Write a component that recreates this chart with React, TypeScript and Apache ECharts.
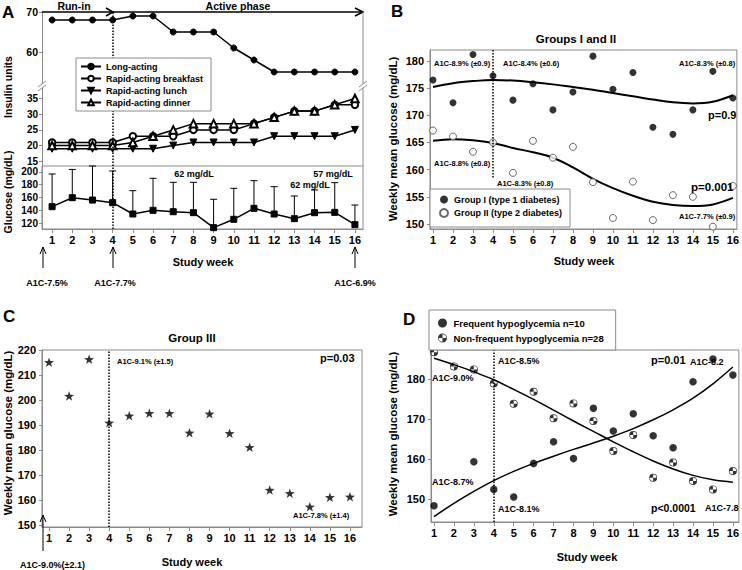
import React, { useEffect, useRef } from 'react';
import * as echarts from 'echarts';

// ---------- data ----------
const weeks = [1, 2, 3, 4, 5, 6, 7, 8, 9, 10, 11, 12, 13, 14, 15, 16];

// Panel A
const longActing = [68, 68, 68, 68, 69, 69, 65, 65, 65, 61, 58, 55, 55, 55, 55, 55];
const rapidBreakfast = [21, 21, 21, 21, 23, 23, 23, 25, 25, 25, 27, 29, 31, 31, 33, 33];
const rapidLunch = [19, 19, 19, 19, 19, 19, 20, 21, 21, 21, 21, 23, 23, 23, 23, 25];
const rapidDinner = [20, 20, 20, 20, 21, 23, 25, 27, 27, 27, 27, 29, 31, 31, 33, 35];
const glucoseMean = [145.6, 159.7, 156, 151.9, 134.1, 139.9, 137.7, 136.2, 112.7, 125.8, 143, 134.1, 126.8, 136.2, 136.7, 117.4];
const glucoseUpper = [196.9, 204, 209.4, 201.6, 170.7, 190.1, 183.8, 183.8, 157.2, 174.4, 186.4, 177, 162.4, 171.8, 183.3, 148.2];
const insulinUpperTicks = [60, 70];
const insulinLowerTicks = [15, 20, 25, 30, 35];
const glucoseTicks = [120, 140, 160, 180, 200];

// Panel B
const groupI = [176.5, 172.3, 181.2, 177.3, 172.8, 175.8, 171, 174.3, 180.9, 174.8, 177.9, 167.8, 166.5, 171, 178.1, 173.2];
const groupII = [167.2, 166.1, 163.3, 165.0, 159.4, 165.3, 162.2, 164.2, 157.7, 151.1, 157.8, 150.7, 155.3, 155, 149.5, 157];
const groupIFit = [175.2, 175.9, 176.3, 176.5, 176.4, 176.1, 175.7, 175.2, 174.7, 174.1, 173.5, 172.9, 172.4, 172.2, 172.5, 173.7];
const groupIIFit = [165.3, 165.6, 165.4, 164.9, 164.0, 163.2, 162.2, 160.4, 158.3, 156.6, 155.2, 154.1, 153.5, 153.3, 153.6, 154.8];
const bTicks = [150, 155, 160, 165, 170, 175, 180];

// Panel C
const groupIII = [215.1, 201.6, 216.3, 190.9, 193.7, 194.7, 194.7, 186.9, 194.5, 186.7, 181.1, 164, 162.7, 157.3, 161.1, 161.3];
const cTicks = [150, 160, 170, 180, 190, 200, 210, 220];

// Panel D
const frequentHypo = [148.3, 143.8, 159.3, 152.4, 150.5, 158.9, 164.3, 160.1, 172.7, 167, 171.3, 165.8, 162.8, 179.3, 185, 181];
const nonFrequentHypo = [186.7, 183.1, 182.4, 178.9, 173.8, 176.8, 170.2, 173.9, 169.5, 162, 166, 155.3, 159.1, 154.5, 152.4, 157];
const frequentFit = [145.6, 148.9, 151.9, 154.6, 156.9, 158.9, 160.7, 162.4, 164.0, 165.7, 167.6, 169.8, 172.3, 175.2, 178.8, 183.0];
const nonFrequentFit = [185.2, 183.6, 181.8, 179.8, 177.4, 174.9, 172.2, 169.5, 166.9, 164.3, 161.8, 159.5, 157.5, 155.9, 154.8, 154.2];
const dTicks = [150, 160, 170, 180];

// ---------- styles ----------
const FONT = '"Liberation Sans", Arial, Helvetica, sans-serif';
const GRAY = '#8a8a8a';
const STAR = 'path://M10 0L12.35 6.76L19.51 6.91L13.8 11.24L15.88 18.09L10 14L4.12 18.09L6.2 11.24L0.49 6.91L7.65 6.76Z';
const QUARTER = 'path://M10 0A10 10 0 1 1 10 20A10 10 0 1 1 10 0ZM10 1.7A8.3 8.3 0 1 0 10 18.3A8.3 8.3 0 1 0 10 1.7ZM10 10L0 10A10 10 0 0 1 10 0ZM10 10L20 10A10 10 0 0 1 10 20Z';

const pairs = (ys: number[]) => weeks.map((w, i) => [w, ys[i]]);

const dotted = (data: any[]) => ({
  silent: true,
  symbol: ['none', 'none'],
  label: { show: false },
  lineStyle: { type: 'dotted', color: '#000', width: 1.5 },
  data,
});

const xAx = (gridIndex: number, min: number, max: number, show = true) => ({
  type: 'value',
  gridIndex,
  min,
  max,
  show,
  axisLine: { show: true, lineStyle: { color: GRAY, width: 1 } },
  axisTick: { show: true, customValues: weeks, length: 4, lineStyle: { color: GRAY } },
  axisLabel: { customValues: weeks, color: '#000', fontWeight: 'bold', fontSize: 11, fontFamily: FONT, margin: 5 },
  splitLine: { show: false },
});

const yAx = (gridIndex: number, min: number, max: number, vals: number[], margin = 5, size = 11) => ({
  type: 'value',
  gridIndex,
  min,
  max,
  axisLine: { show: true, lineStyle: { color: GRAY, width: 1 } },
  axisTick: { show: true, customValues: vals, length: 3, lineStyle: { color: GRAY } },
  axisLabel: { customValues: vals, color: '#000', fontWeight: 'bold', fontSize: size, fontFamily: FONT, margin },
  splitLine: { show: false },
});

const txt = (x: number, y: number, t: string, size: number, align = 'left', rotation = 0) => ({
  type: 'text',
  x,
  y,
  rotation,
  z: 100,
  style: {
    text: t,
    fontSize: size,
    fontWeight: 'bold',
    fontFamily: FONT,
    fill: '#000',
    textAlign: align,
    align,
    textVerticalAlign: 'middle',
    verticalAlign: 'middle',
  },
});

const ln = (x1: number, y1: number, x2: number, y2: number, w = 1, color = '#000') => ({
  type: 'line',
  z: 100,
  shape: { x1, y1, x2, y2 },
  style: { stroke: color, lineWidth: w },
});

const pl = (points: number[][], w = 1) => ({
  type: 'polyline',
  z: 100,
  shape: { points },
  style: { stroke: '#000', fill: 'none', lineWidth: w },
});

const upArrow = (x: number, yTop: number, yBottom: number) => [
  ln(x, yBottom, x, yTop, 1),
  pl([[x - 3, yTop + 7], [x, yTop], [x + 3, yTop + 7]], 1),
];

const blackLine = (name: string, xi: number, ys: number[], symbol: string, size: number, extra: any = {}) => ({
  type: 'line',
  name,
  xAxisIndex: xi,
  yAxisIndex: xi,
  data: pairs(ys),
  symbol,
  symbolSize: size,
  itemStyle: { color: '#000', borderColor: '#000', borderWidth: 1 },
  lineStyle: { color: '#000', width: 1.5 },
  ...extra,
});

const fitLine = (name: string, idx: number, ys: number[], w: number) => ({
  type: 'line',
  name,
  xAxisIndex: idx,
  yAxisIndex: idx,
  data: pairs(ys),
  smooth: 0.4,
  showSymbol: false,
  symbol: 'none',
  silent: true,
  lineStyle: { color: '#000', width: w },
  z: 1,
});

export default function App() {
  const ref = useRef<HTMLDivElement>(null);

  useEffect(() => {
    if (!ref.current) return;
    const chart = echarts.init(ref.current, undefined, { renderer: 'svg' });

    const grids = [
      { left: 42, top: 12, width: 321, height: 74 }, // A1
      { left: 42, top: 86, width: 321, height: 80 }, // A2
      { left: 42, top: 166, width: 321, height: 63, show: true, borderColor: GRAY, borderWidth: 1 }, // A3
      { left: 430, top: 50, width: 310, height: 179, show: true, borderColor: GRAY, borderWidth: 1 }, // B
      { left: 42, top: 350, width: 320, height: 177, show: true, borderColor: GRAY, borderWidth: 1 }, // C
      { left: 431, top: 350, width: 309, height: 172, show: true, borderColor: GRAY, borderWidth: 1 }, // D
    ];

    const xAxis = [
      xAx(0, 0.5, 16.4, false),
      xAx(1, 0.5, 16.4, false),
      xAx(2, 0.5, 16.4),
      xAx(3, 0.85, 16.2),
      xAx(4, 0.65, 16.6),
      xAx(5, 0.85, 16.3),
    ];
    const yAxis = [
      yAx(0, 51.5, 70, insulinUpperTicks, 4, 10.5),
      yAx(1, 13.5, 39, insulinLowerTicks, 4, 10),
      yAx(2, 110.6, 209.4, glucoseTicks, 4, 10),
      yAx(3, 149.07, 182.03, bTicks, 6),
      yAx(4, 149.2, 220, cTicks, 6),
      yAx(5, 144.25, 187.25, dTicks, 6),
    ];

    const series: any[] = [
      // Panel A insulin
      blackLine('Long-acting', 0, longActing, 'circle', 6, { markLine: dotted([{ xAxis: 4 }]) }),
      blackLine('Rapid-acting breakfast', 1, rapidBreakfast, 'emptyCircle', 6.5, {
        itemStyle: { color: '#000', borderColor: '#000', borderWidth: 1 },
        markLine: dotted([{ xAxis: 4 }]),
      }),
      blackLine('Rapid-acting lunch', 1, rapidLunch, 'triangle', 7, { symbolRotate: 180 }),
      blackLine('Rapid-acting dinner', 1, rapidDinner, 'emptyTriangle', 7.5, {
        itemStyle: { color: '#000', borderColor: '#000', borderWidth: 1 },
      }),
      // Panel A glucose error bars
      {
        type: 'custom',
        name: 'glucoseSD',
        xAxisIndex: 2,
        yAxisIndex: 2,
        data: weeks.map((w, i) => [w, glucoseMean[i], glucoseUpper[i]]),
        encode: { x: 0, y: [1, 2] },
        z: 1,
        silent: true,
        renderItem: (params: any, api: any) => {
          const x = api.value(0);
          const p0 = api.coord([x, api.value(1)]);
          const p1 = api.coord([x, api.value(2)]);
          return {
            type: 'group',
            children: [
              { type: 'line', shape: { x1: p0[0], y1: p0[1], x2: p1[0], y2: p1[1] }, style: { stroke: '#000', lineWidth: 1 } },
              { type: 'line', shape: { x1: p1[0] - 3.5, y1: p1[1], x2: p1[0] + 3.5, y2: p1[1] }, style: { stroke: '#000', lineWidth: 1 } },
            ],
          };
        },
      },
      blackLine('Glucose', 2, glucoseMean, 'rect', 6, { z: 3, markLine: dotted([{ xAxis: 4 }]) }),

      // Panel B
      fitLine('Group I fit', 3, groupIFit, 2),
      fitLine('Group II fit', 3, groupIIFit, 2),
      {
        type: 'scatter',
        name: 'Group I (type 1 diabetes)',
        xAxisIndex: 3,
        yAxisIndex: 3,
        data: pairs(groupI),
        symbol: 'circle',
        symbolSize: 7,
        itemStyle: { color: '#000' },
        z: 3,
        markLine: dotted([[{ coord: [4, 182.03] }, { coord: [4, 158.3] }]]),
      },
      {
        type: 'scatter',
        name: 'Group II (type 2 diabetes)',
        xAxisIndex: 3,
        yAxisIndex: 3,
        data: pairs(groupII),
        symbol: 'circle',
        symbolSize: 7,
        itemStyle: { color: '#fff', borderColor: '#444', borderWidth: 1 },
        z: 3,
      },

      // Panel C
      {
        type: 'scatter',
        name: 'Group III',
        xAxisIndex: 4,
        yAxisIndex: 4,
        data: pairs(groupIII),
        symbol: STAR,
        symbolKeepAspect: true,
        symbolSize: 10,
        itemStyle: { color: '#000' },
        markLine: dotted([{ xAxis: 4 }]),
      },

      // Panel D
      fitLine('Frequent fit', 5, frequentFit, 1.5),
      fitLine('Non-frequent fit', 5, nonFrequentFit, 1.5),
      {
        type: 'scatter',
        name: 'Frequent hypoglycemia n=10',
        xAxisIndex: 5,
        yAxisIndex: 5,
        data: pairs(frequentHypo),
        symbol: 'circle',
        symbolSize: 7.5,
        itemStyle: { color: '#000' },
        z: 3,
        markLine: dotted([{ xAxis: 4 }]),
      },
      {
        type: 'scatter',
        name: 'Non-frequent hypoglycemia n=28',
        xAxisIndex: 5,
        yAxisIndex: 5,
        data: pairs(nonFrequentHypo),
        symbol: QUARTER,
        symbolSize: 8,
        itemStyle: { color: '#000' },
        z: 3,
      },
    ];

    const legendText = (size: number) => ({ fontSize: size, fontWeight: 'bold', color: '#000', fontFamily: FONT });
    const legend = [
      {
        data: ['Long-acting', 'Rapid-acting breakfast', 'Rapid-acting lunch', 'Rapid-acting dinner'],
        orient: 'vertical',
        left: 76,
        top: 58,
        padding: [4, 8, 4, 4],
        itemWidth: 20,
        itemHeight: 7,
        itemGap: 3,
        backgroundColor: '#fff',
        borderColor: GRAY,
        borderWidth: 1,
        selectedMode: false,
        textStyle: legendText(9),
        z: 10,
      },
      {
        data: ['Group I (type 1 diabetes)', 'Group II (type 2 diabetes)'],
        orient: 'vertical',
        left: 430,
        top: 189,
        padding: [6, 8, 9, 9],
        itemWidth: 10,
        itemHeight: 8,
        itemGap: 4,
        backgroundColor: '#fff',
        borderColor: GRAY,
        borderWidth: 1,
        selectedMode: false,
        textStyle: legendText(9),
        z: 10,
      },
      {
        data: ['Frequent hypoglycemia n=10', 'Non-frequent hypoglycemia n=28'],
        orient: 'vertical',
        left: 429,
        top: 310,
        padding: [8, 12, 7, 9],
        itemWidth: 12,
        itemHeight: 9,
        itemGap: 5,
        backgroundColor: '#fff',
        borderColor: GRAY,
        borderWidth: 1,
        selectedMode: false,
        textStyle: legendText(9.5),
        z: 10,
      },
    ];

    const graphic: any[] = [
      // panel letters
      txt(2, 12, 'A', 17),
      txt(391, 11, 'B', 17),
      txt(3, 316, 'C', 17),
      txt(403, 319, 'D', 17),
      // titles
      txt(576, 39, 'Groups I and II', 11.5, 'center'),
      txt(192, 338, 'Group III', 11.5, 'center'),
      // axis titles
      txt(203, 262, 'Study week', 11, 'center'),
      txt(584, 261, 'Study week', 11, 'center'),
      txt(192, 562, 'Study week', 11, 'center'),
      txt(587, 557, 'Study week', 11, 'center'),
      txt(8, 87, 'Insulin units', 10.5, 'center', Math.PI / 2),
      txt(8, 192, 'Glucose (mg/dL)', 10.5, 'center', Math.PI / 2),
      txt(393, 139, 'Weekly mean glucose (mg/dL)', 11.5, 'center', Math.PI / 2),
      txt(8, 433, 'Weekly mean glucose (mg/dL)', 11.5, 'center', Math.PI / 2),
      txt(393, 434, 'Weekly mean glucose (mg/dL)', 11.5, 'center', Math.PI / 2),
      // Panel A top arrows
      ln(42, 12, 363, 12, 1.5),
      pl([[106, 8], [113, 12], [106, 16]], 1.5),
      pl([[355, 8], [363, 12], [355, 16]], 1.5),
      txt(74, 6, 'Run-in', 10.5, 'center'),
      txt(238, 6, 'Active phase', 10.5, 'center'),
      // Panel A right border with break
      ln(363, 12, 363, 84, 1, GRAY),
      ln(363, 88, 363, 166, 1, GRAY),
      { type: 'rect', z: 99, shape: { x: 38, y: 84, width: 8, height: 4 }, style: { fill: '#fff' } },
      ln(38, 87, 46, 81, 1, GRAY),
      ln(38, 91, 46, 85, 1, GRAY),
      ln(359, 87, 367, 81, 1, GRAY),
      ln(359, 91, 367, 85, 1, GRAY),
      // Panel A annotations
      txt(194, 174, '62 mg/dL', 9, 'center'),
      txt(333, 174, '57 mg/dL', 9, 'center'),
      txt(310, 185, '62 mg/dL', 9, 'center'),
      ...upArrow(43, 247, 268),
      ...upArrow(113, 247, 268),
      ...upArrow(355, 247, 268),
      txt(47, 283, 'A1C-7.5%', 9, 'center'),
      txt(115, 283, 'A1C-7.7%', 9, 'center'),
      txt(355, 283, 'A1C-6.9%', 9, 'center'),
      // Panel B annotations
      txt(434, 63, 'A1C-8.9% (±0.9)', 7.5),
      txt(503, 63, 'A1C-8.4% (±0.6)', 7.5),
      txt(679, 63, 'A1C-8.3% (±0.8)', 7.5),
      txt(708, 115, 'p=0.9', 11),
      txt(434, 163, 'A1C-8.8% (±0.8)', 7.5),
      txt(497, 183, 'A1C-8.3% (±0.8)', 7.5),
      txt(691, 187, 'p=0.001', 11.5),
      txt(679, 216, 'A1C-7.7% (±0.9)', 7.5),
      // Panel C annotations
      txt(117, 361, 'A1C-9.1% (±1.5)', 7.5),
      txt(320, 358, 'p=0.03', 11),
      txt(293, 515, 'A1C-7.8% (±1.4)', 7.5),
      ...upArrow(43, 515, 551),
      txt(20, 565, 'A1C-9.0%(±2.1)', 9),
      // Panel D annotations
      txt(498, 361, 'A1C-8.5%', 9),
      txt(432, 378, 'A1C-9.0%', 9),
      txt(432, 482, 'A1C-8.7%', 9),
      txt(498, 509, 'A1C-8.1%', 9),
      txt(651, 360, 'p=0.01', 11),
      txt(690, 362, 'A1C-8.2', 9),
      txt(651, 508, 'p<0.0001', 10.5),
      txt(705, 508, 'A1C-7.8', 9),
    ];

    chart.setOption({
      animation: false,
      backgroundColor: '#fff',
      textStyle: { fontFamily: FONT },
      grid: grids,
      xAxis,
      yAxis,
      legend,
      series,
      graphic,
    });

    return () => chart.dispose();
  }, []);

  return <div ref={ref} style={{ position: 'fixed', left: 0, top: 0, width: 742, height: 570 }} />;
}
